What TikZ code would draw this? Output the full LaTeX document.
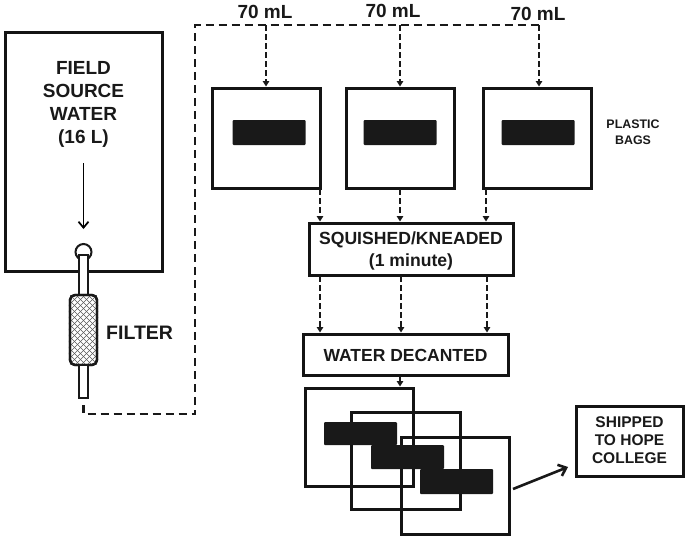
\documentclass[tikz,border=0pt]{standalone}
\usepackage{fontspec}
\setmainfont{Liberation Sans}
\usetikzlibrary{arrows.meta}
\begin{document}
\begin{tikzpicture}[x=1pt,y=-1pt,
  box/.style={draw=black!92, line width=3pt, inner sep=0pt},
  blk/.style={fill=black!90, draw=none, rounded corners=1pt, minimum width=73pt, minimum height=24pt, inner sep=0pt},
  bagbox/.style={box, minimum width=108pt, minimum height=100pt},
  lbl/.style={font=\bfseries\fontsize{19}{23}\selectfont, align=center, text=black!90, inner sep=0pt},
  dline/.style={draw=black!90, line width=2.6pt, dash pattern=on 8pt off 5pt},
  darr/.style={draw=black!90, line width=1.7pt, dash pattern=on 5.5pt off 3.5pt, -{Triangle[length=5.5pt,width=6.5pt]}},
  tubebox/.style={draw=black!90, fill=white, line width=2pt, minimum width=9pt, inner sep=0pt}
]
\useasboundingbox (0,0) rectangle (685,538);

% source container
\node[box, minimum width=157pt, minimum height=239pt] (src) at (83.5,151.5) {};
\node[lbl] (srctxt) at (83.5,104) {FIELD\\SOURCE\\WATER\\(16 L)};
\coordinate (flowtop) at (83.5,163);
\coordinate (flowbot) at (83.5,229);
\draw[line width=1.7pt, -{Straight Barb[length=6pt,width=10pt]}] (flowtop) -- (flowbot);
\node[draw=black!90, line width=2pt, circle, minimum size=16pt, inner sep=0pt] (valve) at (83.5,252) {};
\node[tubebox, minimum height=42pt] (tube1) at (83.5,276) {};
\node[draw=black!90, line width=2.4pt, rounded corners=5pt, minimum width=27pt, minimum height=70pt, inner sep=0pt, fill=white] (filter) at (83.5,330) {};
\begin{scope}
  \clip[rounded corners=5pt] (filter.north west) rectangle (filter.south east);
  \foreach \k in {-72,-66,...,110} {
    \draw[black!65, line width=0.6pt] (70+\k,295) -- (70+\k+70,365);
    \draw[black!65, line width=0.6pt] (97-\k,295) -- (97-\k-70,365);
  }
\end{scope}
\node[draw=black!90, line width=2.4pt, rounded corners=5pt, minimum width=27pt, minimum height=70pt, inner sep=0pt] (filteredge) at (83.5,330) {};
\node[tubebox, minimum height=33pt] (tube2) at (83.5,381.5) {};
\node[lbl, anchor=west, font=\bfseries\fontsize{19.5}{23}\selectfont] (filtxt) at (106,333) {FILTER};

% dashed distribution line
\coordinate (d0) at (83.5,405);
\coordinate (d1) at (83.5,414);
\coordinate (d2) at (195,414);
\coordinate (d3) at (195,25);
\coordinate (t1) at (266,25);
\coordinate (t2) at (400,25);
\coordinate (t3) at (539,25);
\draw[dline] (d0) -- (d1) -- (d2) -- (d3) -- (t3);

\node[lbl, anchor=south] (ml1) at (265,19) {70 mL};
\node[lbl, anchor=south] (ml2) at (393,18) {70 mL};
\node[lbl, anchor=south] (ml3) at (538,21) {70 mL};

% bags
\node[bagbox] (bag1) at (266,138) {};
\node[bagbox] (bag2) at (400,138) {};
\node[bagbox] (bag3) at (537,138) {};
\node[blk, minimum height=25pt] (b1) at (269,132.5) {};
\node[blk, minimum height=25pt] (b2) at (400,132.5) {};
\node[blk, minimum height=25pt] (b3) at (538,132.5) {};
\draw[darr] (t1) -- (bag1.north);
\draw[darr] (t2) -- (bag2.north);
\draw[darr] (t3) -- (t3 |- bag3.north);
\node[font=\bfseries\fontsize{12.4}{16}\selectfont, align=center, text=black!90] (pb) at (633,132) {PLASTIC\\BAGS};

% squished
\node[box, minimum width=204pt, minimum height=52pt] (sq) at (411,249) {};
\node[lbl, font=\bfseries\fontsize{17.6}{22}\selectfont] (sqtxt) at (411,251) {SQUISHED/KNEADED\\(1 minute)};
\coordinate (s1) at (320,189);
\coordinate (s2) at (400,189);
\coordinate (s3) at (486,189);
\draw[darr] (s1) -- (s1 |- sq.north);
\draw[darr] (s2) -- (s2 |- sq.north);
\draw[darr] (s3) -- (s3 |- sq.north);

% decanted
\node[box, minimum width=205pt, minimum height=41pt] (dec) at (405.5,354.5) {};
\node[lbl, font=\bfseries\fontsize{17.5}{22}\selectfont] (dectxt) at (405.5,355) {WATER DECANTED};
\coordinate (u1) at (320,276);
\coordinate (u2) at (401,276);
\coordinate (u3) at (487,276);
\draw[darr] (u1) -- (u1 |- dec.north);
\draw[darr] (u2) -- (u2 |- dec.north);
\draw[darr] (u3) -- (u3 |- dec.north);

% stacked bags
\node[box, minimum width=108pt, minimum height=98pt] (sa) at (359,437) {};
\node[box, minimum width=109pt, minimum height=97pt] (sb) at (405.5,460.5) {};
\node[box, minimum width=108pt, minimum height=97pt] (sc) at (455,485.5) {};
\node[blk, minimum height=23pt] (ka) at (360.5,433.5) {};
\node[blk] (kb) at (407.5,457) {};
\node[blk, minimum height=25pt] (kc) at (456.5,481.5) {};
\coordinate (v0) at (400,376);
\draw[draw=black!90, line width=1.5pt, -{Triangle[length=5.5pt,width=6.5pt]}] (v0) -- (v0 |- sa.north);

% shipped
\node[box, minimum width=107pt, minimum height=70pt] (ship) at (629.5,441) {};
\node[lbl, font=\bfseries\fontsize{15.5}{18}\selectfont] (shiptxt) at (629.5,440) {SHIPPED\\TO HOPE\\COLLEGE};
\coordinate (a0) at (513,489);
\coordinate (a1) at (568,467);
\draw[draw=black!90, line width=2.6pt, -{Straight Barb[length=7pt,width=12pt]}] (a0) -- (a1);
\end{tikzpicture}
\end{document}
